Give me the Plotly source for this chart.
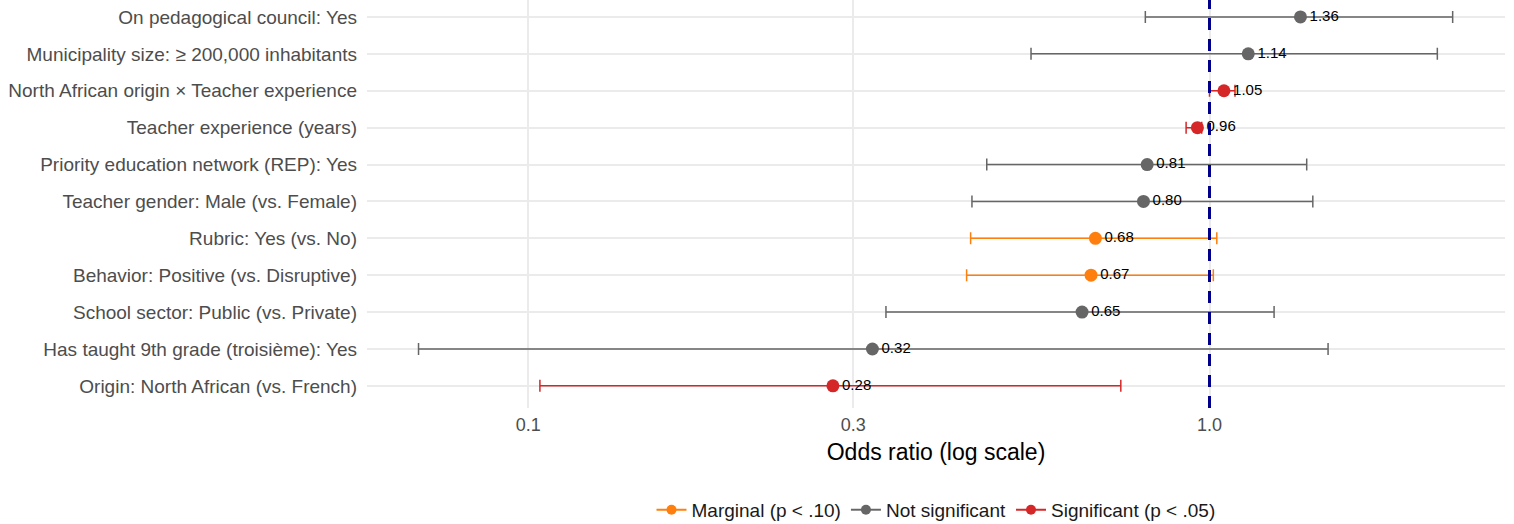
import plotly.graph_objects as go

# Model terms, bottom to top as drawn
terms = [
    "Origin: North African (vs. French)",
    "Has taught 9th grade (troisième): Yes",
    "School sector: Public (vs. Private)",
    "Behavior: Positive (vs. Disruptive)",
    "Rubric: Yes (vs. No)",
    "Teacher gender: Male (vs. Female)",
    "Priority education network (REP): Yes",
    "Teacher experience (years)",
    "North African origin × Teacher experience",
    "Municipality size: ≥ 200,000 inhabitants",
    "On pedagogical council: Yes",
]
odds_ratio = [0.28, 0.32, 0.65, 0.67, 0.68, 0.80, 0.81, 0.96, 1.05, 1.14, 1.36]
ci_low = [0.104, 0.069, 0.335, 0.440, 0.446, 0.448, 0.471, 0.924, 1.00, 0.547, 0.805]
ci_high = [0.741, 1.493, 1.244, 1.013, 1.025, 1.418, 1.389, 0.974, 1.09, 2.16, 2.275]
significance = [
    "Significant (p < .05)",
    "Not significant",
    "Not significant",
    "Marginal (p < .10)",
    "Marginal (p < .10)",
    "Not significant",
    "Not significant",
    "Significant (p < .05)",
    "Significant (p < .05)",
    "Not significant",
    "Not significant",
]

groups = ["Marginal (p < .10)", "Not significant", "Significant (p < .05)"]
group_colors = {
    "Marginal (p < .10)": "#FF7F0E",
    "Not significant": "#666666",
    "Significant (p < .05)": "#D62728",
}

FONT = "Liberation Sans, Arial, Helvetica, sans-serif"

fig = go.Figure()

# Reference line at OR = 1 on an overlay axis spanning the full panel height
fig.add_trace(go.Scatter(
    x=[1, 1], y=[0, 1], yaxis="y2", mode="lines",
    line=dict(color="#00008B", width=3, dash="12px,9px"),
    showlegend=False, hoverinfo="skip",
))

for g in groups:
    idx = [i for i, s in enumerate(significance) if s == g]
    xs = [odds_ratio[i] for i in idx]
    ys = [terms[i] for i in idx]
    plus = [ci_high[i] - odds_ratio[i] for i in idx]
    minus = [odds_ratio[i] - ci_low[i] for i in idx]
    fig.add_trace(go.Scatter(
        x=xs, y=ys, mode="markers+text",
        marker=dict(color=group_colors[g], size=13),
        error_x=dict(type="data", symmetric=False, array=plus, arrayminus=minus,
                     color=group_colors[g], thickness=1.5, width=6),
        text=[f"{v:.2f}" for v in xs],
        textposition="middle right",
        textfont=dict(family=FONT, size=15, color="#000000"),
        showlegend=False, name=g,
    ))
    # Legend key: line through a dot
    fig.add_trace(go.Scatter(
        x=[None], y=[None], mode="lines+markers", name=g,
        line=dict(color=group_colors[g], width=2),
        marker=dict(color=group_colors[g], size=10),
    ))

fig.update_layout(
    width=1514, height=524,
    margin=dict(l=367, r=9, t=0, b=116),
    paper_bgcolor="white", plot_bgcolor="white",
    font=dict(family=FONT, size=19, color="#4D4D4D"),
    xaxis=dict(
        type="log", range=[-1.2368, 0.4338], automargin=False,
        tickvals=[0.1, 0.3, 1.0], ticktext=["0.1", "0.3", "1.0"],
        showgrid=True, gridcolor="#EBEBEB", gridwidth=1.5,
        showline=False, zeroline=False, ticks="",
        ticklabelstandoff=4,
        tickfont=dict(size=18, color="#4D4D4D"),
        title=dict(text="Odds ratio (log scale)", font=dict(size=23, color="#000000"), standoff=9),
    ),
    yaxis=dict(
        type="category", categoryorder="array", categoryarray=terms,
        range=[-0.6, 10.46], automargin=False,
        showgrid=True, gridcolor="#EBEBEB", gridwidth=1.5,
        showline=False, zeroline=False, ticks="",
        ticklabelstandoff=9,
        tickfont=dict(size=19, color="#4D4D4D"),
    ),
    yaxis2=dict(overlaying="y", range=[0, 1], visible=False, fixedrange=True),
    legend=dict(
        orientation="h", x=0.5, xanchor="center",
        yref="container", y=0.027, yanchor="middle",
        font=dict(size=19, color="#1A1A1A"), traceorder="normal",
        itemwidth=30,
    ),
)

fig.write_html("out.html")
